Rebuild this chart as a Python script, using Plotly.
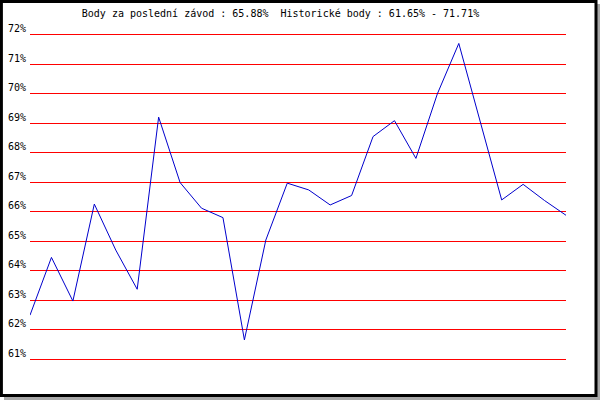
import plotly.graph_objects as go

title_text = "Body za poslední závod : 65.88%\u00a0\u00a0Historické body : 61.65% - 71.71%"
race_index = list(range(26))
points = [62.49, 64.45, 62.97, 66.26, 64.7, 63.37, 69.21, 66.99, 66.12, 65.8,
          61.65, 65.04, 66.97, 66.74, 66.23, 66.55, 68.55, 69.09, 67.81, 70.0,
          71.71, 69.05, 66.4, 66.93, 66.38, 65.88]
y_ticks = list(range(61, 73))
y_labels = [f"{v}%" for v in y_ticks]

W, H = 600, 400
ML, MR, MT, PH = 30, 34, 29, 336
MB = H - MT - PH
PW = W - ML - MR

def px_x(p):
    return (p - ML) / PW

def px_y(p):
    return (MT + PH - p) / PH

fig = go.Figure()
fig.add_trace(go.Scatter(x=race_index, y=points, mode="lines",
                         line=dict(color="#0000cc", width=1), hoverinfo="skip",
                         showlegend=False))

shapes = [
    dict(type="rect", xref="paper", yref="paper", layer="below",
         x0=px_x(4), x1=px_x(600), y0=px_y(4), y1=px_y(400),
         fillcolor="#a8a8a8", line=dict(width=0)),
    dict(type="rect", xref="paper", yref="paper", layer="below",
         x0=px_x(1.4), x1=px_x(596), y0=px_y(1.5), y1=px_y(395.5),
         fillcolor="white", line=dict(color="black", width=3)),
]

annotations = [
    dict(x=0, xref="paper", y=v, yref="y", text=lab, showarrow=False,
         xanchor="right", yanchor="middle", xshift=-2, yshift=6,
         font=dict(family="DejaVu Sans Mono", size=10, color="black"))
    for v, lab in zip(y_ticks, y_labels)
]

fig.update_layout(
    width=W, height=H,
    margin=dict(l=ML, r=MR, t=MT, b=MB, pad=0),
    paper_bgcolor="white", plot_bgcolor="rgba(0,0,0,0)",
    title=dict(text=title_text, x=280.5 / W, xanchor="center", xref="container",
               y=1 - 13.5 / H, yanchor="middle", yref="container",
               font=dict(family="DejaVu Sans Mono", size=10, color="black")),
    xaxis=dict(range=[0, 25], showgrid=False, zeroline=False, showticklabels=False,
               showline=False, ticks=""),
    yaxis=dict(range=[60.8, 72.2], tickmode="array", tickvals=y_ticks,
               showgrid=True, gridcolor="#ff0000", gridwidth=1, zeroline=False,
               showticklabels=False, showline=False, ticks=""),
    shapes=shapes, annotations=annotations, showlegend=False,
)

fig.write_html("out.html", config={"displayModeBar": False},
               post_script="document.body.style.margin='0';document.body.style.overflow='hidden';")
